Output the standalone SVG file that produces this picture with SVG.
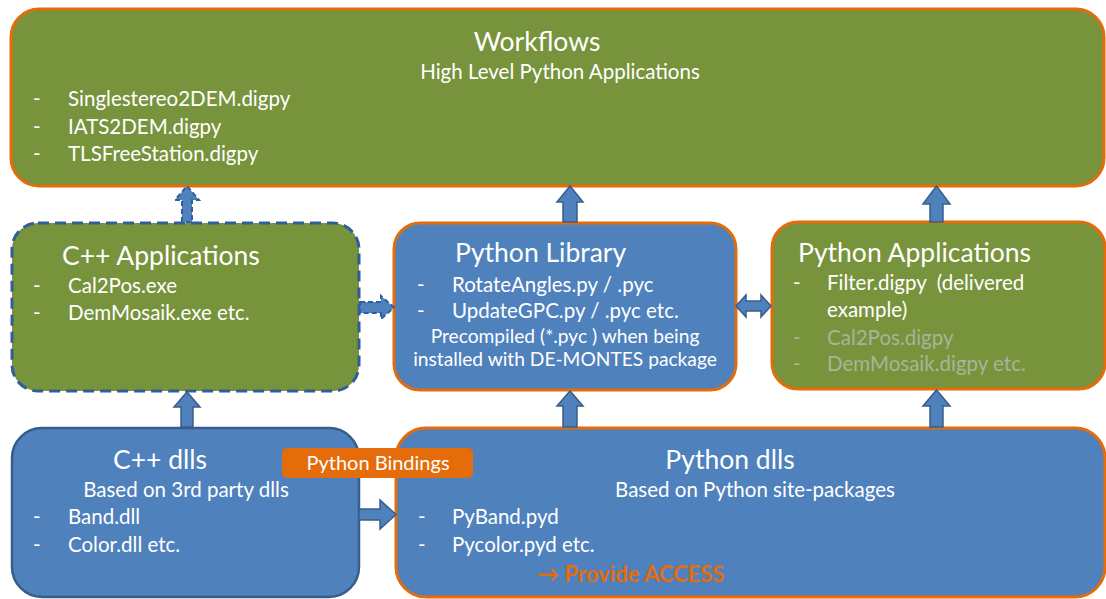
<svg xmlns="http://www.w3.org/2000/svg" width="1106" height="599" viewBox="0 0 1106 599">
  <defs>
    <style>
      text { font-family: Lato, "Liberation Sans", sans-serif; fill: #ffffff; white-space: pre; }
      .green { fill: #77933C; }
      .blue { fill: #4F81BD; }
      .orange-edge { stroke: #E46C0A; stroke-width: 3; }
      .blue-edge { stroke: #385D8A; stroke-width: 2.5; }
      .dash-edge { stroke: #2F5F9A; stroke-width: 3; stroke-dasharray: 11 6; }
      .title { font-size: 26.5px; }
      .sub { font-size: 20.5px; }
      .item { font-size: 20.5px; }
      .note { font-size: 19.2px; }
      .muted { fill: #A9B49A; }
      .arrow { fill: #4F81BD; stroke: #385D8A; stroke-width: 1.5; stroke-linejoin: miter; }
      .arrow-dash { fill: #4F81BD; stroke: #2F5F9A; stroke-width: 2; stroke-dasharray: 5 3; }
    </style>
  </defs>

  <!-- Workflows -->
  <g id="workflows">
    <rect x="11" y="9" width="1093" height="177" rx="28" class="green orange-edge"/>
    <text x="537" y="51" class="title" text-anchor="middle">Workflows</text>
    <text x="560" y="79" class="sub" text-anchor="middle">High Level Python Applications</text>
    <text x="33" y="106" class="item">-</text>
    <text x="68" y="106" class="item">Singlestereo2DEM.digpy</text>
    <text x="33" y="134" class="item">-</text>
    <text x="68" y="134" class="item">IATS2DEM.digpy</text>
    <text x="33" y="161" class="item">-</text>
    <text x="68" y="161" class="item">TLSFreeStation.digpy</text>
  </g>

  <!-- C++ Applications -->
  <g id="cpp-applications">
    <rect x="12" y="223" width="347" height="168" rx="26" class="green dash-edge"/>
    <text x="62" y="265" class="title">C++ Applications</text>
    <text x="33" y="293" class="item">-</text>
    <text x="68" y="293" class="item">Cal2Pos.exe</text>
    <text x="33" y="320" class="item">-</text>
    <text x="68" y="320" class="item">DemMosaik.exe etc.</text>
  </g>

  <!-- Python Library -->
  <g id="python-library">
    <rect x="394" y="223" width="342" height="167" rx="26" class="blue orange-edge"/>
    <text x="455" y="262" class="title">Python Library</text>
    <text x="417" y="292" class="item">-</text>
    <text x="452" y="292" class="item">RotateAngles.py / .pyc</text>
    <text x="417" y="318" class="item">-</text>
    <text x="452" y="318" class="item">UpdateGPC.py / .pyc etc.</text>
    <text x="565" y="343" class="note" text-anchor="middle">Precompiled (*.pyc ) when being</text>
    <text x="565" y="366" class="note" text-anchor="middle">installed with DE-MONTES package</text>
  </g>

  <!-- Python Applications -->
  <g id="python-applications">
    <rect x="772" y="222" width="333" height="167" rx="26" class="green orange-edge"/>
    <text x="798" y="262" class="title">Python Applications</text>
    <text x="793" y="290" class="item">-</text>
    <text x="827" y="290" class="item">Filter.digpy  (delivered</text>
    <text x="827" y="317" class="item">example)</text>
    <text x="793" y="345" class="item muted">-</text>
    <text x="827" y="345" class="item muted">Cal2Pos.digpy</text>
    <text x="793" y="371" class="item muted">-</text>
    <text x="827" y="371" class="item muted">DemMosaik.digpy etc.</text>
  </g>

  <!-- C++ dlls -->
  <g id="cpp-dlls">
    <rect x="12" y="428" width="347" height="169" rx="30" class="blue blue-edge"/>
    <text x="160" y="469" class="title" text-anchor="middle">C++ dlls</text>
    <text x="186" y="497" class="sub" text-anchor="middle">Based on 3rd party dlls</text>
    <text x="33" y="524" class="item">-</text>
    <text x="68" y="524" class="item">Band.dll</text>
    <text x="33" y="552" class="item">-</text>
    <text x="68" y="552" class="item">Color.dll etc.</text>
  </g>

  <!-- Python dlls -->
  <g id="python-dlls">
    <rect x="396" y="428" width="709" height="169" rx="30" class="blue orange-edge"/>
    <text x="730" y="469" class="title" text-anchor="middle">Python dlls</text>
    <text x="755" y="497" class="sub" text-anchor="middle">Based on Python site-packages</text>
    <text x="418" y="524" class="item">-</text>
    <text x="452" y="524" class="item">PyBand.pyd</text>
    <text x="418" y="552" class="item">-</text>
    <text x="452" y="552" class="item">Pycolor.pyd etc.</text>
    <text x="537" y="582" font-size="22" font-weight="bold" style="fill:#E46C0A">→ Provide ACCESS</text>
  </g>

  <!-- Python Bindings label -->
  <g id="python-bindings">
    <rect x="282" y="448" width="191" height="30" rx="5" fill="#E46C0A"/>
    <text x="378" y="470" font-size="20" text-anchor="middle">Python Bindings</text>
  </g>

  <!-- Connectors: block arrows -->
  <g id="connectors">
    <!-- C++ Applications -> Workflows (dashed) -->
    <polygon class="arrow-dash" points="182,222 182,200 175,200 187,186 199,200 192,200 192,222"/>
    <!-- Python Library -> Workflows -->
    <polygon class="arrow" points="563,222 563,202 557,202 570,186 583,202 577,202 577,222"/>
    <!-- Python Applications -> Workflows -->
    <polygon class="arrow" points="930,222 930,204 923,204 936.5,186 950,204 943,204 943,222"/>
    <!-- C++ dlls -> C++ Applications -->
    <polygon class="arrow" points="181,427 181,407 174,407 187,392 200,407 193,407 193,427"/>
    <!-- Python dlls -> Python Library -->
    <polygon class="arrow" points="563,427 563,406 557,406 570,391 583,406 577,406 577,427"/>
    <!-- Python dlls -> Python Applications -->
    <polygon class="arrow" points="930,427 930,406 923,406 936.5,390 950,406 943,406 943,427"/>
    <!-- C++ Applications -> Python Library (dashed) -->
    <polygon class="arrow-dash" points="360,302 381,302 381,296 394,307.5 381,319 381,313 360,313"/>
    <!-- Python Library <-> Python Applications -->
    <polygon class="arrow" points="736,306 746,295 746,301 761,301 761,295 771,306 761,317 761,311 746,311 746,317"/>
    <!-- C++ dlls -> Python dlls -->
    <polygon class="arrow" points="359,509 380,509 380,500 396,514.5 380,529 380,520 359,520"/>
  </g>
</svg>
